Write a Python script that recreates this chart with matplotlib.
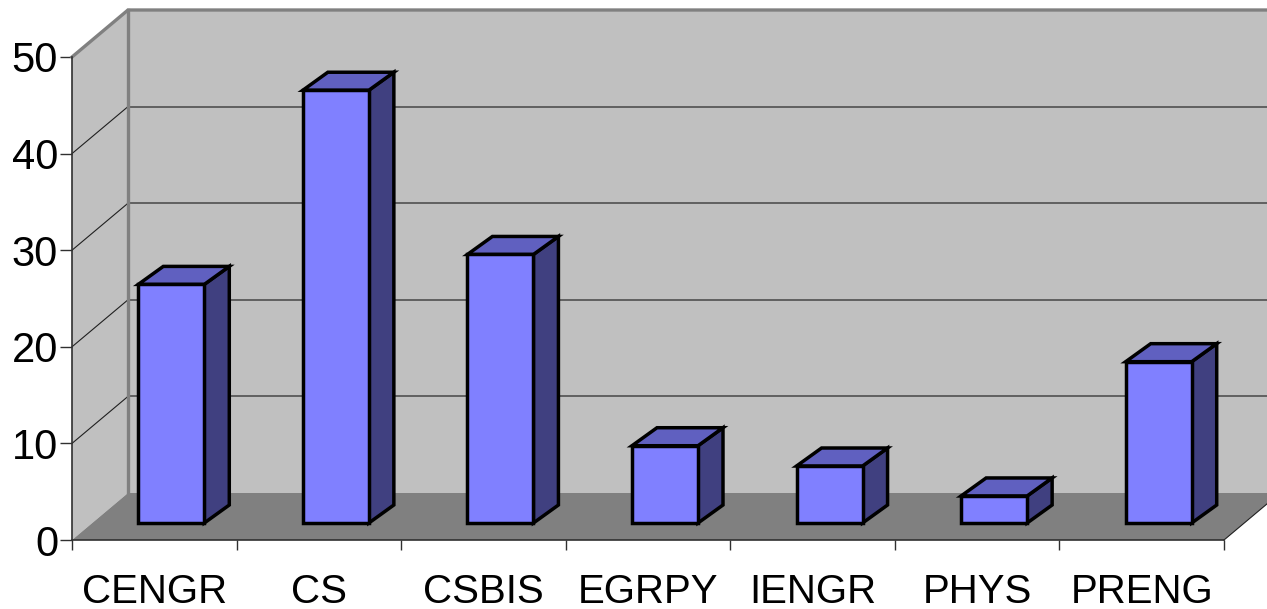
import matplotlib
matplotlib.use("Agg")
import matplotlib.pyplot as plt
from matplotlib.patches import Polygon

plt.rcParams["font.family"] = ["Liberation Sans", "DejaVu Sans"]

# data
majors = ["CENGR", "CS", "CSBIS", "EGRPY", "IENGR", "PHYS", "PRENG"]
counts = [24.7, 44.8, 27.8, 8, 5.9, 2.8, 16.7]
y_ticks = [0, 10, 20, 30, 40, 50]

# colours
wall_color = "#c0c0c0"
floor_color = "#808080"
bar_front = "#8080ff"
bar_side = "#404080"
bar_top = "#6060c0"
axis_color = "#303030"

W, H = 1267, 609
fig = plt.figure(figsize=(W / 100, H / 100), dpi=100)
left, right, base, top = 72, 1224, 540, 57
ax = fig.add_axes([left / W, 1 - base / H, (right - left) / W, (base - top) / H])
ax.set_xlim(0, len(majors))
ax.set_ylim(0, 50)
ax.patch.set_visible(False)

# pixels per data unit, used for the oblique depth offsets
px_x = (right - left) / len(majors)
px_y = (base - top) / 50


def shift(x, y, dx_px, dy_px):
    return x + dx_px / px_x, y + dy_px / px_y


def add_poly(points, color, z, edge="none", lw=0):
    ax.add_patch(Polygon(points, closed=True, facecolor=color, edgecolor=edge,
                         linewidth=lw, clip_on=False, zorder=z, joinstyle="miter"))


# walls and floor
wall_dx, wall_dy = 56, 47
n = len(majors)
back = lambda x, y: shift(x, y, wall_dx, wall_dy)
add_poly([(0, 0), (0, 50), back(0, 50), back(0, 0)], wall_color, 1)
add_poly([back(0, 0), back(0, 50), back(n, 50), back(n, 0)], wall_color, 1)
add_poly([(0, 0), (n, 0), back(n, 0), back(0, 0)], floor_color, 1.5)

# gridlines on the side and back walls
for v in y_ticks[1:-1]:
    ax.plot(*zip((0, v), back(0, v)), color="#202020", lw=0.8, clip_on=False, zorder=2)
    ax.plot(*zip(back(0, v), back(n, v)), color="#606060", lw=1.4, clip_on=False, zorder=2)

# wall outline
ax.plot(*zip((0, 50), back(0, 50), back(n, 50)), color=floor_color, lw=2.4,
        clip_on=False, zorder=2.2, solid_joinstyle="miter")
ax.plot(*zip(back(0, 50), back(0, 0)), color=floor_color, lw=2.4, clip_on=False, zorder=2.2)
ax.plot(*zip((n, 0), back(n, 0)), color="#202020", lw=0.8, clip_on=False, zorder=2.2)

# bars
bar_w = 66 / px_x
depth = (25, 18)
style = dict(edge="black", lw=2.5)
for i, v in enumerate(counts):
    x0, y0 = shift(i + 0.5 - bar_w / 2, 0, 17, 17)
    x1 = x0 + bar_w
    y1 = y0 + v
    add_poly([(x1, y0), (x1, y1), shift(x1, y1, *depth), shift(x1, y0, *depth)], bar_side, 3, **style)
    add_poly([(x0, y1), (x1, y1), shift(x1, y1, *depth), shift(x0, y1, *depth)], bar_top, 3, **style)
    add_poly([(x0, y0), (x1, y0), (x1, y1), (x0, y1)], bar_front, 3.1, **style)

# axes
for s in ("top", "right"):
    ax.spines[s].set_visible(False)
for s in ("left", "bottom"):
    ax.spines[s].set_color(axis_color)
    ax.spines[s].set_linewidth(1.2)
    ax.spines[s].set_zorder(2.5)

ax.set_yticks(y_ticks)
ax.tick_params(axis="y", length=8.5, width=1, color=axis_color, labelsize=30, pad=1.5)
ax.set_xticks(range(n + 1))
ax.set_xticklabels([])
ax.tick_params(axis="x", which="major", length=7, width=1, color=axis_color)
ax.set_xticks([i + 0.5 for i in range(n)], minor=True)
ax.set_xticklabels(majors, minor=True, fontsize=29)
ax.tick_params(axis="x", which="minor", length=0, pad=24)

fig.savefig("out.png", dpi=100)
